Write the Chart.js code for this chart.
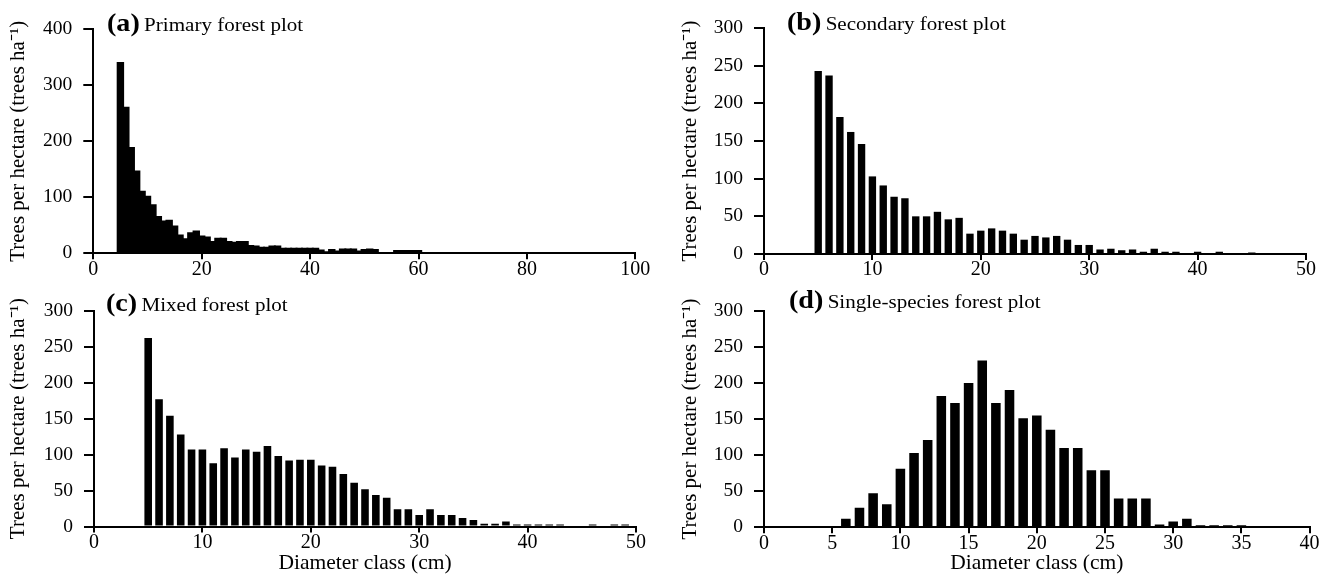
<!DOCTYPE html>
<html><head><meta charset="utf-8">
<script src="https://cdn.jsdelivr.net/npm/chart.js@4.4.1/dist/chart.umd.min.js"></script>
<style>
html,body{margin:0;padding:0;background:#fff;width:1322px;height:577px;overflow:hidden;}
canvas{position:absolute;}
.ttl{position:absolute;font-family:'Liberation Serif','Times New Roman',serif;color:#000;white-space:nowrap;line-height:1;transform:scaleX(1.08);transform-origin:0 50%;}
.ttl b{font-size:26px;font-weight:bold;}
.ttl span{font-size:19.5px;}
</style></head><body>
<canvas id="ca" width="660" height="288" style="left:0;top:0"></canvas>
<canvas id="cb" width="650" height="288" style="left:672px;top:0"></canvas>
<canvas id="cc" width="660" height="289" style="left:0;top:288px"></canvas>
<canvas id="cd" width="650" height="289" style="left:672px;top:288px"></canvas>
<div class="ttl" style="left:107px;top:10px"><b>(a)</b> <span>Primary forest plot</span></div>
<div class="ttl" style="left:787px;top:9px"><b>(b)</b> <span>Secondary forest plot</span></div>
<div class="ttl" style="left:106px;top:290px"><b>(c)</b> <span>Mixed forest plot</span></div>
<div class="ttl" style="left:789px;top:287px"><b>(d)</b> <span>Single-species forest plot</span></div>
<script>
// ---- Data ----
const classesA = [5,6,7,8,9,10,11,12,13,14,15,16,17,18,19,20,21,22,23,24,25,26,27,28,29,30,31,32,33,34,35,36,37,38,39,40,41,42,43,44,45,46,47,48,49,50,51,52,53,54,55,56,57,58,59,60];
const valuesA  = [340,260,188,146,110,101,86,65,57,58,48,32,25,36,39,30,28,20,26,26,20,19,20,20,13,12,10,10,12,12,8,8,8,8,8,8,8,5,2,6,3,7,7,7,3,6,7,6,0,0,0,4,4,4,4,4];

const classesB = [5,6,7,8,9,10,11,12,13,14,15,16,17,18,19,20,21,22,23,24,25,26,27,28,29,30,31,32,33,34,35,36,37,38,39,40,41,42,43,44,45];
const valuesB  = [243,237,182,162,146,103,91,76,74,50,50,56,46,48,27,31,34,31,27,19,24,22,24,19,12,12,6,7,5,6,3,7,3,3,0,3,0,3,0,0,2];

const classesC = [5,6,7,8,9,10,11,12,13,14,15,16,17,18,19,20,21,22,23,24,25,26,27,28,29,30,31,32,33,34,35,36,37,38,39,40,41,42,43,44,45,46,47,48,49];
const valuesC  = [262,177,154,128,107,107,88,109,96,107,104,112,98,92,93,93,85,83,73,61,52,44,40,24,24,16,24,16,16,12,9,4,4,7,3,3,3,3,3,0,0,3,0,3,3];

const classesD = [6,7,8,9,10,11,12,13,14,15,16,17,18,19,20,21,22,23,24,25,26,27,28,29,30,31,32,33,34,35];
const valuesD  = [12,27,47,32,81,103,121,182,172,200,231,172,190,151,155,135,110,110,79,79,40,40,40,4,8,12,3,3,3,3];

const xTicksA = [0,20,40,60,80,100];
const xTicksB = [0,10,20,30,40,50];
const xTicksC = [0,10,20,30,40,50];
const xTicksD = [0,5,10,15,20,25,30,35,40];
const yTicksA = [0,100,200,300,400];
const yTicksB = [0,50,100,150,200,250,300];
const yTicksC = [0,50,100,150,200,250,300];
const yTicksD = [0,50,100,150,200,250,300];

const yTitle = 'Trees per hectare (trees ha\u207B\u00B9)';
const xTitle = 'Diameter class (cm)';

const FONT = "'Liberation Serif','Times New Roman',serif";

function panel(id, classes, values, xTicks, yTicks, barPct, lay, showXTitle) {
  const data = classes.map((c, i) => ({x: c, y: values[i]}));
  new Chart(document.getElementById(id), {
    type: 'bar',
    data: {datasets: [{data, backgroundColor: '#000', borderWidth: 0,
      inflateAmount: barPct >= 1 ? 1 : 'auto',
      barPercentage: barPct, categoryPercentage: 1}]},
    options: {
      responsive: false, animation: false, devicePixelRatio: 1,
      layout: {padding: {left: 0, top: lay.top, right: lay.right, bottom: 0}},
      plugins: {legend: {display: false}, tooltip: {enabled: false}},
      scales: {
        x: {
          type: 'linear', offset: false, min: xTicks[0], max: xTicks[xTicks.length - 1],
          afterBuildTicks: s => { s.ticks = xTicks.map(v => ({value: v})); },
          afterFit: s => { s.height = lay.xH; },
          grid: {display: true, offset: false, drawOnChartArea: false, drawTicks: true,
                 tickLength: 6, color: '#000', lineWidth: 2},
          border: {display: true, color: '#000', width: 2},
          ticks: {color: '#000', padding: -2, maxRotation: 0, autoSkip: false,
                  font: {family: FONT, size: 20}},
          title: {display: showXTitle, text: xTitle, color: '#000', padding: {top: 0, bottom: 1},
                  font: {family: FONT, size: 21.5}}
        },
        y: {
          type: 'linear', min: yTicks[0], max: yTicks[yTicks.length - 1],
          afterBuildTicks: s => { s.ticks = yTicks.map(v => ({value: v})); },
          afterFit: s => { s.width = lay.yW; },
          grid: {display: true, drawOnChartArea: false, drawTicks: true,
                 tickLength: 10, color: '#000', lineWidth: 2},
          border: {display: true, color: '#000', width: 2},
          ticks: {color: '#000', padding: 11, font: {family: FONT, size: 19.5}},
          title: {display: true, text: yTitle, color: '#000', padding: {top: 6, bottom: 0},
                  font: {family: FONT, size: 21}}
        }
      }
    }
  });
}

panel('ca', classesA, valuesA, xTicksA, yTicksA, 1.0, {top: 29.3, right: 24.7, xH: 34.7, yW: 93.3}, false);
panel('cb', classesB, valuesB, xTicksB, yTicksB, 0.68, {top: 28, right: 16, xH: 34, yW: 92}, false);
panel('cc', classesC, valuesC, xTicksC, yTicksC, 0.7, {top: 11.3, right: 24, xH: 50.4, yW: 94}, true);
panel('cd', classesD, valuesD, xTicksD, yTicksD, 0.7, {top: 11.3, right: 12.4, xH: 49.7, yW: 92}, true);
</script>
</body></html>
